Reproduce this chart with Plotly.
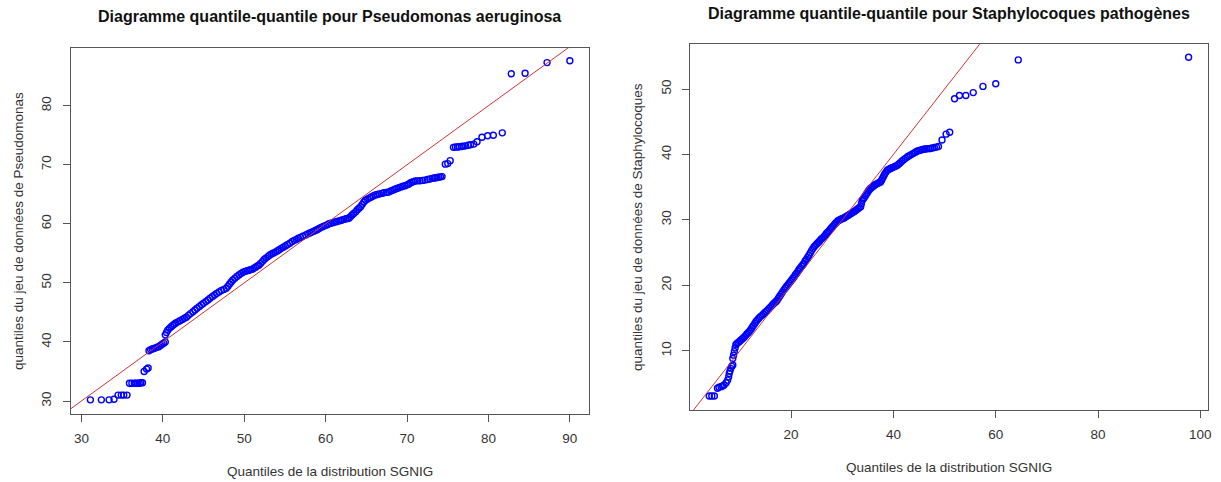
import plotly.graph_objects as go

# ---------------- data ----------------
# Pseudomonas aeruginosa: theoretical SGNIG quantiles (x) vs sorted observations (y)
pseudo_theo = [31.1, 32.45, 33.4, 34.0, 34.5, 34.9, 35.2, 35.6,
    35.9, 36.2, 36.5, 36.7, 36.9, 37.1, 37.3, 37.5, 37.7, 38.0, 38.2,
    38.3, 38.5, 38.7, 38.9, 39.1, 39.3, 39.5, 39.7, 39.9, 40.1, 40.3,
    40.3, 40.45, 40.6, 40.8, 41.0, 41.2, 41.4, 41.6, 41.85, 42.1, 42.4, 42.65, 42.9,
    43.15, 43.4, 43.7, 43.95, 44.2, 44.5, 44.75, 45.0, 45.3, 45.55, 45.8, 46.1, 46.35,
    46.6, 46.9, 47.2, 47.5, 47.8, 48.0, 48.2, 48.4, 48.6, 48.85, 49.1, 49.35, 49.6,
    49.85, 50.1, 50.35, 50.6, 50.8, 51.0, 51.2, 51.4, 51.6, 51.8, 52.0, 52.25, 52.45,
    52.65, 52.9, 53.1, 53.35, 53.6, 53.85, 54.1, 54.3, 54.55, 54.8, 55.05, 55.3, 55.6,
    55.9, 56.15, 56.4, 56.65, 56.9, 57.2, 57.55, 57.8, 58.05, 58.3, 58.55, 58.8, 59.0,
    59.2, 59.45, 59.7, 59.95, 60.2, 60.4, 60.65, 60.9, 61.15, 61.4, 61.65, 61.85, 62.0,
    62.25, 62.5, 62.7, 62.85, 63.05, 63.25, 63.45, 63.7, 63.9, 64.1, 64.3, 64.5, 64.7,
    64.9, 65.15, 65.4, 65.6, 65.85, 66.1, 66.35, 66.6, 66.9, 67.15, 67.45, 67.75, 68.0,
    68.25, 68.5, 68.75, 69.0, 69.25, 69.5, 69.75, 70.0, 70.2, 70.4, 70.6, 70.8, 71.0,
    71.3, 71.6, 71.9, 72.2, 72.5, 72.8, 73.1, 73.35, 73.5, 73.7, 73.9, 74.1, 74.3,
    74.7, 75.0, 75.3, 75.7, 75.95, 76.2, 76.4, 76.7, 76.9, 77.2, 77.5, 77.8, 78.2,
    78.6, 79.2, 79.9, 80.6, 81.7, 82.8, 84.5, 87.2, 90.0]
pseudo_obs = [30.2, 30.2, 30.2, 30.3, 31.0, 31.0, 31.0, 31.0,
    33.0, 33.0, 33.0, 33.0, 33.0, 33.0, 33.1, 33.1, 35.0, 35.4, 35.6,
    38.5, 38.7, 38.8, 38.9, 39.0, 39.1, 39.2, 39.4, 39.6, 39.8, 40.0,
    41.2, 41.6, 42.0, 42.3, 42.55, 42.8, 43.0, 43.2, 43.4, 43.6, 43.8, 44.0, 44.2,
    44.5, 44.8, 45.1, 45.4, 45.7, 46.0, 46.3, 46.55, 46.85, 47.1, 47.4, 47.7, 47.95,
    48.2, 48.45, 48.7, 48.9, 49.1, 49.45, 49.8, 50.15, 50.5, 50.8, 51.1, 51.35, 51.6,
    51.8, 51.95, 52.05, 52.15, 52.25, 52.3, 52.5, 52.65, 52.85, 53.0, 53.3, 53.65, 53.95,
    54.2, 54.45, 54.7, 54.9, 55.05, 55.25, 55.45, 55.6, 55.85, 56.05, 56.25, 56.45, 56.7,
    57.0, 57.2, 57.35, 57.55, 57.7, 57.9, 58.1, 58.3, 58.45, 58.6, 58.75, 58.9, 59.05,
    59.2, 59.4, 59.55, 59.7, 59.85, 60.0, 60.1, 60.2, 60.3, 60.4, 60.5, 60.55, 60.65,
    60.75, 60.85, 60.9, 60.95, 61.2, 61.5, 61.75, 62.05, 62.4, 62.65, 62.9, 63.3, 63.7,
    64.0, 64.2, 64.4, 64.55, 64.7, 64.9, 64.97, 65.05, 65.15, 65.25, 65.32, 65.4, 65.55,
    65.7, 65.85, 65.98, 66.1, 66.25, 66.35, 66.45, 66.6, 66.7, 66.9, 67.05, 67.15, 67.25,
    67.28, 67.3, 67.35, 67.4, 67.5, 67.6, 67.7, 67.75, 67.8, 67.85, 67.9, 67.95, 68.0,
    70.1, 70.2, 70.7, 72.95, 73.0, 73.0, 73.05, 73.1, 73.15, 73.2, 73.3, 73.4, 73.5,
    73.9, 74.65, 74.9, 75.0, 75.4, 85.4, 85.5, 87.3, 87.6]

# Staphylocoques pathogènes
staph_theo = [4.0, 4.5, 5.0, 5.6, 5.9, 6.3, 6.6, 6.9, 7.3, 7.6, 7.8, 7.9, 8.05, 8.2, 8.4, 8.6,
    8.6, 8.75, 8.9, 9.05, 9.2, 9.4, 9.65, 9.9, 10.15, 10.4, 10.6, 10.85, 11.1, 11.35, 11.6,
    11.85, 12.1, 12.35, 12.6, 12.9, 13.15, 13.4, 13.7, 14.0, 14.3, 14.6, 14.9, 15.15, 15.4,
    15.7, 16.0, 16.3, 16.6, 16.9, 17.1, 17.3, 17.55, 17.8, 18.05, 18.3, 18.6, 18.85, 19.1,
    19.35, 19.6, 19.85, 20.1, 20.35, 20.6, 20.85, 21.1, 21.35, 21.6, 21.8, 22.05, 22.3,
    22.5, 22.75, 23.0, 23.25, 23.5, 23.75, 24.0, 24.25, 24.5, 24.75, 25.0, 25.25, 25.5,
    25.7, 25.95, 26.2, 26.4, 26.65, 26.9, 27.15, 27.4, 27.65, 27.9, 28.15, 28.4, 28.65,
    28.9, 29.15, 29.4, 29.6, 29.85, 30.05, 30.3, 30.55, 30.8, 31.05, 31.3, 31.55, 31.8,
    32.05, 32.3, 32.55, 32.8, 33.05, 33.3, 33.6, 33.75, 33.9, 34.1, 34.3, 34.5, 34.7,
    34.9, 35.1, 35.3, 35.5, 35.75, 36.0, 36.25, 36.5, 36.75, 37.0, 37.25, 37.5, 37.7,
    37.9, 38.1, 38.3, 38.55, 38.8, 39.05, 39.3, 39.5, 39.7, 39.9, 40.1, 40.4, 40.7, 41.0,
    41.3, 41.65, 42.0, 42.35, 42.7, 43.0, 43.3, 43.65, 44.0, 44.3, 44.6, 44.9, 45.2,
    45.55, 45.9, 46.2, 46.5, 46.85, 47.2, 47.6, 48.0, 48.4, 48.8, 49.5, 50.3, 51.0,
    51.95, 52.9, 54.15, 55.6, 57.5, 60.0, 64.4, 97.7]
staph_obs = [3.07, 3.07, 3.07, 4.25, 4.4, 4.5, 4.6, 4.75, 5.1, 5.5, 6.0, 6.5, 6.9, 7.3, 7.6, 7.8,
    8.8, 9.3, 9.85, 10.4, 10.9, 11.1, 11.25, 11.4, 11.6, 11.75, 11.9, 12.1, 12.3, 12.55, 12.75,
    12.95, 13.2, 13.5, 13.8, 14.15, 14.45, 14.7, 14.95, 15.2, 15.4, 15.6, 15.85, 16.0, 16.2,
    16.45, 16.7, 16.95, 17.2, 17.4, 17.55, 17.75, 18.05, 18.35, 18.65, 18.95, 19.3, 19.55, 19.8,
    20.05, 20.3, 20.55, 20.8, 21.05, 21.3, 21.6, 21.85, 22.15, 22.45, 22.65, 22.9, 23.15,
    23.35, 23.7, 24.0, 24.3, 24.6, 24.95, 25.3, 25.6, 25.9, 26.1, 26.3, 26.5, 26.7,
    26.9, 27.1, 27.25, 27.4, 27.65, 27.9, 28.1, 28.3, 28.55, 28.8, 29.0, 29.2, 29.45,
    29.65, 29.85, 29.95, 30.05, 30.12, 30.2, 30.25, 30.4, 30.5, 30.65, 30.75, 30.9, 31.0,
    31.15, 31.25, 31.4, 31.55, 31.7, 31.85, 32.0, 32.5, 33.0, 33.2, 33.4, 33.65, 33.9,
    34.15, 34.4, 34.6, 34.8, 34.95, 35.1, 35.25, 35.4, 35.5, 35.6, 35.7, 35.8, 36.1,
    36.4, 36.7, 37.0, 37.3, 37.6, 37.7, 37.8, 37.88, 37.95, 38.02, 38.1, 38.2, 38.3, 38.5,
    38.7, 38.95, 39.2, 39.4, 39.6, 39.75, 39.9, 40.05, 40.2, 40.35, 40.5, 40.58, 40.65,
    40.72, 40.8, 40.82, 40.85, 40.88, 40.9, 40.98, 41.05, 41.12, 41.2, 42.2, 43.1, 43.4,
    48.5, 49.0, 49.0, 49.45, 50.4, 50.8, 54.45, 54.85]

ref_line = [0, 110]  # reference line y = x

pseudo_xticks = [30, 40, 50, 60, 70, 80, 90]
pseudo_yticks = [30, 40, 50, 60, 70, 80]
staph_xticks = [20, 40, 60, 80, 100]
staph_yticks = [10, 20, 30, 40, 50]

titles = ["Diagramme quantile-quantile pour Pseudomonas aeruginosa",
          "Diagramme quantile-quantile pour Staphylocoques pathogènes"]
xlab = "Quantiles de la distribution SGNIG"
ylabs = ["quantiles du jeu de données de Pseudomonas",
         "quantiles du jeu de données de Staphylocoques"]

# ---------------- figure ----------------
W, H = 1221, 482
FONT = "Liberation Sans, Arial, sans-serif"
PT_COL = "#0000ff"
LINE_COL = "#cc3333"

fig = go.Figure()
for xs, ys, ax in [(pseudo_theo, pseudo_obs, ("x", "y")), (staph_theo, staph_obs, ("x2", "y2"))]:
    fig.add_trace(go.Scatter(x=xs, y=ys, mode="markers",
                             marker=dict(symbol="circle-open", size=6, color=PT_COL,
                                         line=dict(width=1.4, color=PT_COL)),
                             xaxis=ax[0], yaxis=ax[1], showlegend=False, cliponaxis=False))
    fig.add_trace(go.Scatter(x=ref_line, y=ref_line, mode="lines",
                             line=dict(color=LINE_COL, width=1),
                             xaxis=ax[0], yaxis=ax[1], showlegend=False, hoverinfo="skip"))

def px2x(p):
    return p / W

def px2y(p):
    return 1 - p / H

L1 = (71, 591, 48, 414)
L2 = (692.3, 1211.7, 44, 410)

axis_common = dict(showline=True, mirror=True, linecolor="#555555", linewidth=1,
                   ticks="outside", ticklen=7, tickcolor="#555555", tickwidth=1,
                   showgrid=False, zeroline=False,
                   tickfont=dict(family=FONT, size=13.5, color="#333333"))

fig.update_layout(
    width=W, height=H, margin=dict(l=0, r=0, t=0, b=0),
    paper_bgcolor="white", plot_bgcolor="white",
    font=dict(family=FONT, color="#333333"),
    xaxis=dict(domain=[px2x(L1[0]), px2x(L1[1])], range=[28.69, 92.36],
               tickvals=pseudo_xticks, anchor="y", ticklabelstandoff=5, **axis_common),
    yaxis=dict(domain=[px2y(L1[3]), px2y(L1[2])], range=[27.8, 89.77],
               tickvals=pseudo_yticks, tickangle=-90, anchor="x", ticklabelstandoff=6, **axis_common),
    xaxis2=dict(domain=[px2x(L2[0]), px2x(L2[1])], range=[0.24, 101.44],
                tickvals=staph_xticks, anchor="y2", ticklabelstandoff=5, **axis_common),
    yaxis2=dict(domain=[px2y(L2[3]), px2y(L2[2])], range=[0.93, 56.88],
                tickvals=staph_yticks, tickangle=-90, anchor="x2", ticklabelstandoff=6, **axis_common),
)

ann = []
for (box, title, ylab, ty, xly, ylx) in [(L1, titles[0], ylabs[0], 17, 471, 18),
                                         (L2, titles[1], ylabs[1], 13, 467, 639)]:
    cx = (box[0] + box[1]) / 2
    cy = (box[2] + box[3]) / 2
    ann.append(dict(text="<b>%s</b>" % title, x=px2x(cx), y=px2y(ty), xref="paper", yref="paper",
                    showarrow=False, xanchor="center", yanchor="middle",
                    font=dict(family=FONT, size=16, color="#111111")))
    ann.append(dict(text=xlab, x=px2x(cx), y=px2y(xly), xref="paper", yref="paper",
                    showarrow=False, xanchor="center", yanchor="middle",
                    font=dict(family=FONT, size=13.5, color="#333333")))
    ann.append(dict(text=ylab, x=px2x(ylx), y=px2y(cy), xref="paper", yref="paper",
                    showarrow=False, xanchor="center", yanchor="middle", textangle=-90,
                    font=dict(family=FONT, size=13.5, color="#333333")))
fig.update_layout(annotations=ann)

fig.write_html("out.html")
